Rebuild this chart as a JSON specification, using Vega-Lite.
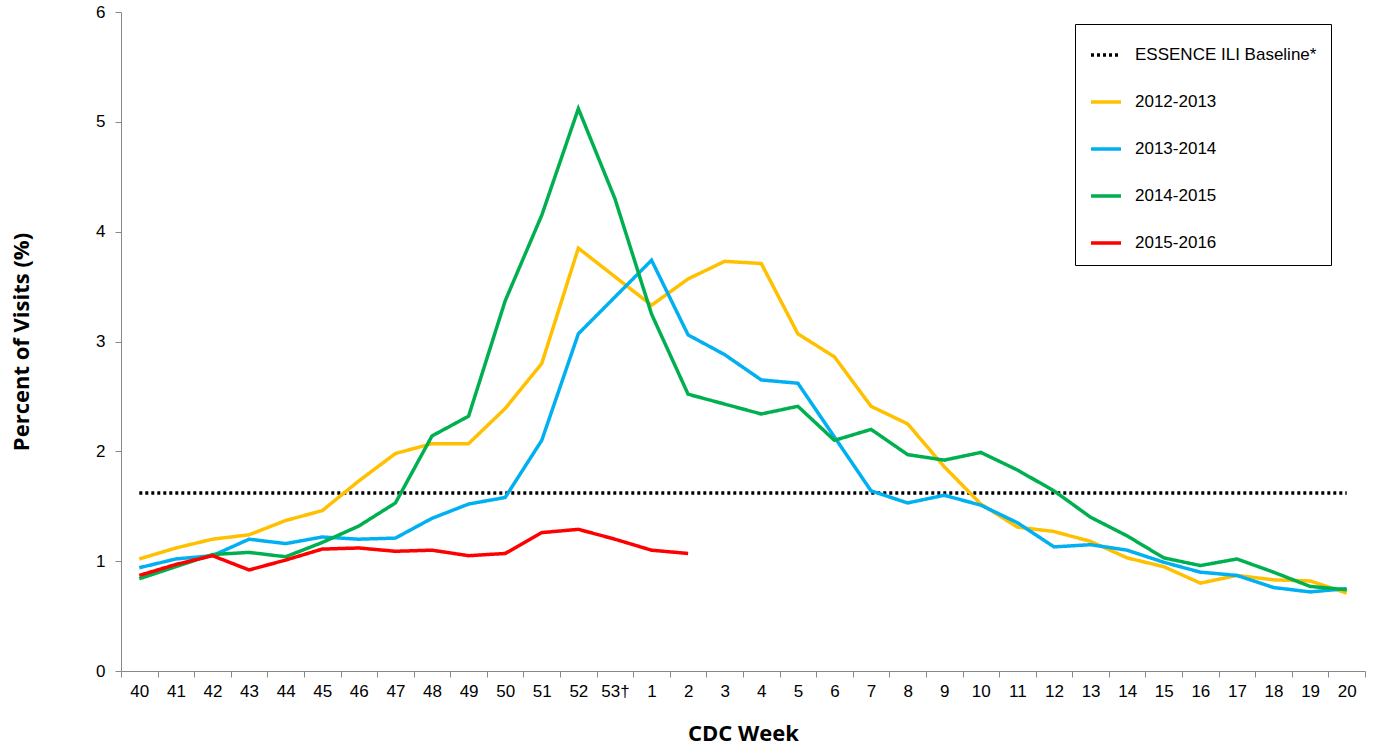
{
  "$schema": "https://vega.github.io/schema/vega-lite/v6.json",
  "autosize": {"type": "fit", "contains": "padding"},
  "width": 1374,
  "height": 748,
  "background": "white",
  "padding": {"left": 10, "top": 3, "right": 8, "bottom": 4},
  "layer": [
    {
      "data": {"values": [
        {"series": "ESSENCE ILI Baseline*", "week": "40", "pct": 1.62},
        {"series": "ESSENCE ILI Baseline*", "week": "20", "pct": 1.62},
        {"series": "2012-2013", "week": "40", "pct": 1.02}, {"series": "2012-2013", "week": "41", "pct": 1.12}, {"series": "2012-2013", "week": "42", "pct": 1.2}, {"series": "2012-2013", "week": "43", "pct": 1.24}, {"series": "2012-2013", "week": "44", "pct": 1.37}, {"series": "2012-2013", "week": "45", "pct": 1.46}, {"series": "2012-2013", "week": "46", "pct": 1.73}, {"series": "2012-2013", "week": "47", "pct": 1.98}, {"series": "2012-2013", "week": "48", "pct": 2.07}, {"series": "2012-2013", "week": "49", "pct": 2.07}, {"series": "2012-2013", "week": "50", "pct": 2.39}, {"series": "2012-2013", "week": "51", "pct": 2.8}, {"series": "2012-2013", "week": "52", "pct": 3.85}, {"series": "2012-2013", "week": "1", "pct": 3.33}, {"series": "2012-2013", "week": "2", "pct": 3.57}, {"series": "2012-2013", "week": "3", "pct": 3.73}, {"series": "2012-2013", "week": "4", "pct": 3.71}, {"series": "2012-2013", "week": "5", "pct": 3.07}, {"series": "2012-2013", "week": "6", "pct": 2.86}, {"series": "2012-2013", "week": "7", "pct": 2.41}, {"series": "2012-2013", "week": "8", "pct": 2.25}, {"series": "2012-2013", "week": "9", "pct": 1.86}, {"series": "2012-2013", "week": "10", "pct": 1.52}, {"series": "2012-2013", "week": "11", "pct": 1.31}, {"series": "2012-2013", "week": "12", "pct": 1.27}, {"series": "2012-2013", "week": "13", "pct": 1.18}, {"series": "2012-2013", "week": "14", "pct": 1.03}, {"series": "2012-2013", "week": "15", "pct": 0.95}, {"series": "2012-2013", "week": "16", "pct": 0.8}, {"series": "2012-2013", "week": "17", "pct": 0.87}, {"series": "2012-2013", "week": "18", "pct": 0.83}, {"series": "2012-2013", "week": "19", "pct": 0.82}, {"series": "2012-2013", "week": "20", "pct": 0.71},
        {"series": "2013-2014", "week": "40", "pct": 0.94}, {"series": "2013-2014", "week": "41", "pct": 1.02}, {"series": "2013-2014", "week": "42", "pct": 1.05}, {"series": "2013-2014", "week": "43", "pct": 1.2}, {"series": "2013-2014", "week": "44", "pct": 1.16}, {"series": "2013-2014", "week": "45", "pct": 1.22}, {"series": "2013-2014", "week": "46", "pct": 1.2}, {"series": "2013-2014", "week": "47", "pct": 1.21}, {"series": "2013-2014", "week": "48", "pct": 1.39}, {"series": "2013-2014", "week": "49", "pct": 1.52}, {"series": "2013-2014", "week": "50", "pct": 1.58}, {"series": "2013-2014", "week": "51", "pct": 2.1}, {"series": "2013-2014", "week": "52", "pct": 3.07}, {"series": "2013-2014", "week": "1", "pct": 3.74}, {"series": "2013-2014", "week": "2", "pct": 3.06}, {"series": "2013-2014", "week": "3", "pct": 2.88}, {"series": "2013-2014", "week": "4", "pct": 2.65}, {"series": "2013-2014", "week": "5", "pct": 2.62}, {"series": "2013-2014", "week": "6", "pct": 2.13}, {"series": "2013-2014", "week": "7", "pct": 1.64}, {"series": "2013-2014", "week": "8", "pct": 1.53}, {"series": "2013-2014", "week": "9", "pct": 1.6}, {"series": "2013-2014", "week": "10", "pct": 1.51}, {"series": "2013-2014", "week": "11", "pct": 1.35}, {"series": "2013-2014", "week": "12", "pct": 1.13}, {"series": "2013-2014", "week": "13", "pct": 1.15}, {"series": "2013-2014", "week": "14", "pct": 1.1}, {"series": "2013-2014", "week": "15", "pct": 0.99}, {"series": "2013-2014", "week": "16", "pct": 0.9}, {"series": "2013-2014", "week": "17", "pct": 0.87}, {"series": "2013-2014", "week": "18", "pct": 0.76}, {"series": "2013-2014", "week": "19", "pct": 0.72}, {"series": "2013-2014", "week": "20", "pct": 0.75},
        {"series": "2014-2015", "week": "40", "pct": 0.84}, {"series": "2014-2015", "week": "41", "pct": 0.95}, {"series": "2014-2015", "week": "42", "pct": 1.06}, {"series": "2014-2015", "week": "43", "pct": 1.08}, {"series": "2014-2015", "week": "44", "pct": 1.04}, {"series": "2014-2015", "week": "45", "pct": 1.17}, {"series": "2014-2015", "week": "46", "pct": 1.32}, {"series": "2014-2015", "week": "47", "pct": 1.53}, {"series": "2014-2015", "week": "48", "pct": 2.14}, {"series": "2014-2015", "week": "49", "pct": 2.32}, {"series": "2014-2015", "week": "50", "pct": 3.37}, {"series": "2014-2015", "week": "51", "pct": 4.15}, {"series": "2014-2015", "week": "52", "pct": 5.12}, {"series": "2014-2015", "week": "53†", "pct": 4.3}, {"series": "2014-2015", "week": "1", "pct": 3.25}, {"series": "2014-2015", "week": "2", "pct": 2.52}, {"series": "2014-2015", "week": "3", "pct": 2.43}, {"series": "2014-2015", "week": "4", "pct": 2.34}, {"series": "2014-2015", "week": "5", "pct": 2.41}, {"series": "2014-2015", "week": "6", "pct": 2.1}, {"series": "2014-2015", "week": "7", "pct": 2.2}, {"series": "2014-2015", "week": "8", "pct": 1.97}, {"series": "2014-2015", "week": "9", "pct": 1.92}, {"series": "2014-2015", "week": "10", "pct": 1.99}, {"series": "2014-2015", "week": "11", "pct": 1.83}, {"series": "2014-2015", "week": "12", "pct": 1.64}, {"series": "2014-2015", "week": "13", "pct": 1.4}, {"series": "2014-2015", "week": "14", "pct": 1.23}, {"series": "2014-2015", "week": "15", "pct": 1.03}, {"series": "2014-2015", "week": "16", "pct": 0.96}, {"series": "2014-2015", "week": "17", "pct": 1.02}, {"series": "2014-2015", "week": "18", "pct": 0.9}, {"series": "2014-2015", "week": "19", "pct": 0.77}, {"series": "2014-2015", "week": "20", "pct": 0.74},
        {"series": "2015-2016", "week": "40", "pct": 0.87}, {"series": "2015-2016", "week": "41", "pct": 0.97}, {"series": "2015-2016", "week": "42", "pct": 1.05}, {"series": "2015-2016", "week": "43", "pct": 0.92}, {"series": "2015-2016", "week": "44", "pct": 1.01}, {"series": "2015-2016", "week": "45", "pct": 1.11}, {"series": "2015-2016", "week": "46", "pct": 1.12}, {"series": "2015-2016", "week": "47", "pct": 1.09}, {"series": "2015-2016", "week": "48", "pct": 1.1}, {"series": "2015-2016", "week": "49", "pct": 1.05}, {"series": "2015-2016", "week": "50", "pct": 1.07}, {"series": "2015-2016", "week": "51", "pct": 1.26}, {"series": "2015-2016", "week": "52", "pct": 1.29}, {"series": "2015-2016", "week": "53†", "pct": 1.2}, {"series": "2015-2016", "week": "1", "pct": 1.1}, {"series": "2015-2016", "week": "2", "pct": 1.07}
      ]},
      "mark": {"type": "line", "strokeWidth": 3.5},
      "encoding": {
        "x": {
          "field": "week", "type": "ordinal", "title": "CDC Week",
          "scale": {"domain": ["40","41","42","43","44","45","46","47","48","49","50","51","52","53†","1","2","3","4","5","6","7","8","9","10","11","12","13","14","15","16","17","18","19","20"], "paddingInner": 0, "paddingOuter": 0},
          "axis": {"labelAngle": 0, "bandPosition": 0, "tickBand": "extent", "labelAlign": "center"}
        },
        "y": {
          "field": "pct", "type": "quantitative", "title": "Percent of Visits (%)",
          "scale": {"domain": [0, 6]},
          "axis": {"values": [0,1,2,3,4,5,6], "grid": false, "labelOverlap": false, "labelPadding": 10}
        },
        "color": {
          "field": "series", "type": "nominal", "title": null,
          "scale": {"domain": ["ESSENCE ILI Baseline*", "2012-2013", "2013-2014", "2014-2015", "2015-2016"], "range": ["#000000", "#FFC000", "#00B0F0", "#00B050", "#FF0000"]}
        },
        "strokeDash": {
          "field": "series", "type": "nominal", "title": null,
          "scale": {"domain": ["ESSENCE ILI Baseline*", "2012-2013", "2013-2014", "2014-2015", "2015-2016"], "range": [[3, 3], [1, 0], [1, 0], [1, 0], [1, 0]]}
        }
      }
    }
  ],
  "config": {
    "font": "Liberation Sans",
    "view": {"stroke": null},
    "axis": {
      "labelFont": "Liberation Sans", "labelFontSize": 17, "labelColor": "#000", "labelPadding": 6,
      "titleFont": "Open Sans", "titleFontSize": 22, "titleFontWeight": "bold", "titleColor": "#000",
      "domainColor": "#888", "tickColor": "#888", "tickSize": 6
    },
    "axisY": {"titlePadding": 62},
    "axisX": {"titlePadding": 24},
    "legend": {
      "orient": "none", "legendX": 954, "legendY": 12,
      "strokeColor": "#000", "padding": 14, "fillColor": "white",
      "labelFont": "Liberation Sans", "labelFontSize": 17, "labelColor": "#000",
      "symbolType": "stroke", "symbolSize": 900, "symbolStrokeWidth": 3.5,
      "rowPadding": 22, "labelLimit": 300, "labelOffset": 12
    }
  }
}
